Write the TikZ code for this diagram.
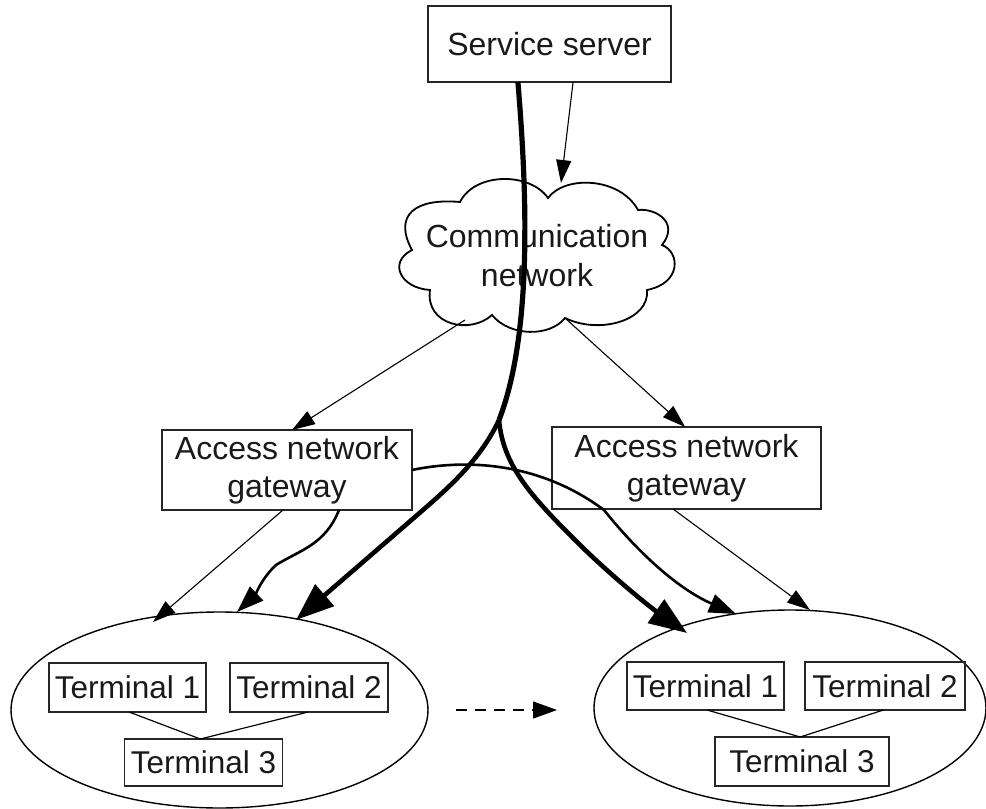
\documentclass[tikz,border=0pt]{standalone}
\usepackage{fontspec}
\setmainfont{Liberation Sans}
\usetikzlibrary{arrows.meta,shapes.geometric,calc}
\tikzset{
  box/.style={draw=black!85,line width=1.7pt,rectangle,inner sep=0pt,outer sep=0pt,align=center,text=black!90,font=\fontsize{32}{38}\selectfont},
  termbox/.style={box,font=\fontsize{31.5}{36}\selectfont},
  zone/.style={draw=black,line width=1.4pt,ellipse,inner sep=0pt,outer sep=0pt},
  thin link/.style={draw=black,line width=1.1pt,-{Triangle[length=23pt,width=15pt]}},
  mid link/.style={draw=black,line width=2.6pt,-{Triangle[length=27pt,width=19pt]}},
  thick link/.style={draw=black,line width=4.6pt,-{Triangle[length=38pt,width=28pt]}},
  tie/.style={draw=black,line width=1.2pt},
  cloudline/.style={draw=black,line width=1.8pt,fill=white}
}
\begin{document}
\begin{tikzpicture}[x=1pt,y=-1pt]
\useasboundingbox (0,0) rectangle (986,809);
\fill[white] (0,0) rectangle (986,809);
% cloud
\path[cloudline] (460,202)
  .. controls (475,172) and (530,172) .. (548,198)
  .. controls (565,175) and (620,177) .. (638,210)
  .. controls (655,208) and (680,222) .. (662,245)
  .. controls (680,252) and (682,283) .. (647,290)
  .. controls (650,320) and (600,335) .. (565,318)
  .. controls (550,337) and (510,337) .. (492,315)
  .. controls (470,335) and (425,325) .. (430,290)
  .. controls (400,288) and (388,262) .. (412,250)
  .. controls (393,215) and (415,198) .. (460,202) -- cycle;
\node (cloudlabel) at (537,256) [align=center,text=black!90,font=\fontsize{32}{39}\selectfont] {Communication\\network};
\coordinate (cloudL) at (465,320);
\coordinate (cloudR) at (565,318);
\coordinate (cloudTop) at (561,183);
% nodes
\node[box,minimum width=243pt,minimum height=76pt] (srv) at (549.5,44) {Service server};
\node[box,minimum width=250pt,minimum height=80pt] (gwL) at (287,470) {Access network\\gateway};
\node[box,minimum width=269pt,minimum height=82pt] (gwR) at (686.5,468) {Access network\\gateway};
\node[zone,minimum width=417pt,minimum height=196pt] (ellL) at (219.5,710) {};
\node[zone,minimum width=392pt,minimum height=196pt] (ellR) at (790,708) {};
\node[termbox,minimum width=157pt,minimum height=49pt] (t1L) at (127.5,687.5) {Terminal 1};
\node[termbox,minimum width=158pt,minimum height=49pt] (t2L) at (309,687.5) {Terminal 2};
\node[termbox,minimum width=158pt,minimum height=47pt] (t3L) at (203.5,762.5) {Terminal 3};
\node[termbox,minimum width=157pt,minimum height=48pt] (t1R) at (705.5,686) {Terminal 1};
\node[termbox,minimum width=160pt,minimum height=48pt] (t2R) at (885,686) {Terminal 2};
\node[termbox,minimum width=174pt,minimum height=49pt] (t3R) at (802,761.5) {Terminal 3};
% thin links
\draw[thin link] ($(srv.south west)!0.597!(srv.south east)$) -- (cloudTop);
\draw[thin link] (cloudL) -- ($(gwL.north west)!0.52!(gwL.north east)$);
\draw[thin link] (cloudR) -- ($(gwR.north west)!0.495!(gwR.north east)$);
\draw[thin link] ($(gwL.south west)!0.484!(gwL.south east)$) -- ($(ellL.center)+(-66.5,-88)$);
\draw[thin link] ($(gwR.south west)!0.45!(gwR.south east)$) -- ($(ellR.center)+(20,-98)$);
% medium links
\draw[mid link] ($(gwL.south west)!0.708!(gwL.south east)$)
  .. controls (325,545) and (300,550) .. (276,565)
  .. controls (262,578) and (255,595) .. ($(ellL.center)+(17.5,-98)$);
\draw[mid link] (gwL.east |- 0,470)
  .. controls (450,462) and (530,455) .. (604,510)
  .. controls (640,555) and (680,590) .. ($(ellR.center)+(-54,-94)$);
% thick links
\coordinate (split) at (499,420);
\draw[line width=5.2pt,black] ($(srv.south west)!0.37!(srv.south east)$)
  .. controls (526,180) and (534,330) .. (split);
\draw[thick link] (split)
  .. controls (478,465) and (440,495) .. (408,523) -- ($(ellL.center)+(76.5,-90)$);
\draw[thick link] (split)
  .. controls (503,465) and (530,495) .. (575,540)
  .. controls (610,575) and (650,607) .. ($(ellR.center)+(-103,-75)$);
% terminal ties
\draw[tie] ($(t1L.south west)!0.51!(t1L.south east)$) -- ($(t3L.north west)!0.48!(t3L.north east)$) -- ($(t2L.south west)!0.494!(t2L.south east)$);
\draw[tie] ($(t1R.south west)!0.51!(t1R.south east)$) -- ($(t3R.north west)!0.49!(t3R.north east)$) -- ($(t2R.south west)!0.49!(t2R.south east)$);
% dashed move
\coordinate (moveA) at (456,710);
\coordinate (moveB) at (557,710);
\draw[line width=1.3pt,dash pattern=on 11pt off 8pt,-{Triangle[length=24pt,width=17pt]}] (moveA) -- (moveB);
\end{tikzpicture}
\end{document}
